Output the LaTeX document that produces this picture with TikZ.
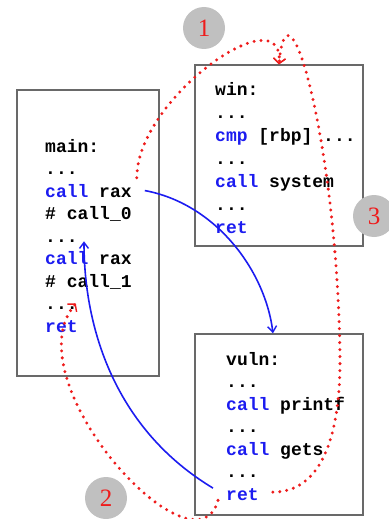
\documentclass[tikz,border=0pt]{standalone}
\usepackage{fontspec}
\setmainfont{Liberation Serif}
\setmonofont{Liberation Mono}
\usetikzlibrary{arrows.meta,calc}
\definecolor{codeblue}{RGB}{28,28,240}
\definecolor{hopred}{RGB}{238,28,28}
\definecolor{framegray}{RGB}{105,105,105}
\definecolor{markgray}{RGB}{192,192,192}
\newcommand\kw[1]{\textcolor{codeblue}{#1}}
\newcommand\skipped{...}
\tikzset{
  codebox/.style={draw=framegray, line width=1.4pt, fill=white, inner sep=0pt},
  codeline/.style={anchor=base west, inner sep=0pt, font=\fontsize{18}{18}\selectfont\ttfamily\bfseries},
  marker/.style={circle, fill=markgray, minimum size=42pt, inner sep=0pt, text=hopred,
               font=\fontsize{25}{25}\selectfont},
  callflow/.style={-{Straight Barb[length=6pt,width=9pt,line width=1.4pt]}, line width=1.6pt, draw=codeblue},
  hopflow/.style={-{Straight Barb[length=5pt,width=12pt,line width=1.4pt]}, line width=3.3pt, draw=hopred,
               line cap=round, dash pattern=on 0pt off 7pt},
}
\begin{document}
\begin{tikzpicture}[x=1pt,y=-1pt]
  \useasboundingbox (0,0) rectangle (388,519);
  % the three functions
  \node[codebox, minimum width=142pt, minimum height=286pt] (mainbox) at (88,233) {};
  \node[codebox, minimum width=168pt, minimum height=181pt] (winbox) at (279,155.5) {};
  \node[codebox, minimum width=168pt, minimum height=181pt] (vulnbox) at (279,424.5) {};
  \foreach \txt [count=\i from 0] in {main:, \skipped, \kw{call} rax, \# call\_0, \skipped, \kw{call} rax, \# call\_1, \skipped, \kw{ret}}
    \node[codeline] (m\i) at (45,{152+22.5*\i}) {\txt};
  \foreach \txt [count=\i from 0] in {win:, \skipped, \kw{cmp} [rbp] \skipped, \skipped, \kw{call} system, \skipped, \kw{ret}}
    \node[codeline] (w\i) at (215,{95+23*\i}) {\txt};
  \foreach \txt [count=\i from 0] in {vuln:, \skipped, \kw{call} printf, \skipped, \kw{call} gets, \skipped, \kw{ret}}
    \node[codeline] (v\i) at (226,{365+22.5*\i}) {\txt};
  % numbered steps
  \node[marker] (one) at (204,28) {1};
  \node[marker] (two) at (106,498) {2};
  \node[marker] (three) at (374,216) {3};
  % normal calls
  \draw[callflow] ([xshift=13pt]m2.east) .. controls +(70,13) and +(-8,-64) .. ([xshift=-6pt]vulnbox.north);
  \draw[callflow] ($(v6.west)+(-13,-6)$) .. controls +(-98,-59) and +(0,87) .. ($(m5.north west)+(39,-10)$);
  % hijacked returns
  \draw[hopflow] ($(m2.north east)+(5,-6)$) .. controls +(0,-80) and +(6,-70) .. (winbox.north);
  \draw[hopflow] ($(v6.east)+(14,-2)$) .. controls +(47,0) and +(0,80) .. (340,360)
                 .. controls +(-2,-210) and +(9,-100) .. (winbox.north);
  \draw[hopflow] ($(v6.south west)+(-8,0)$) .. controls +(-23,82) and +(-65,77) .. ($(m7.base east)+(-2,-6)$);
\end{tikzpicture}
\end{document}
